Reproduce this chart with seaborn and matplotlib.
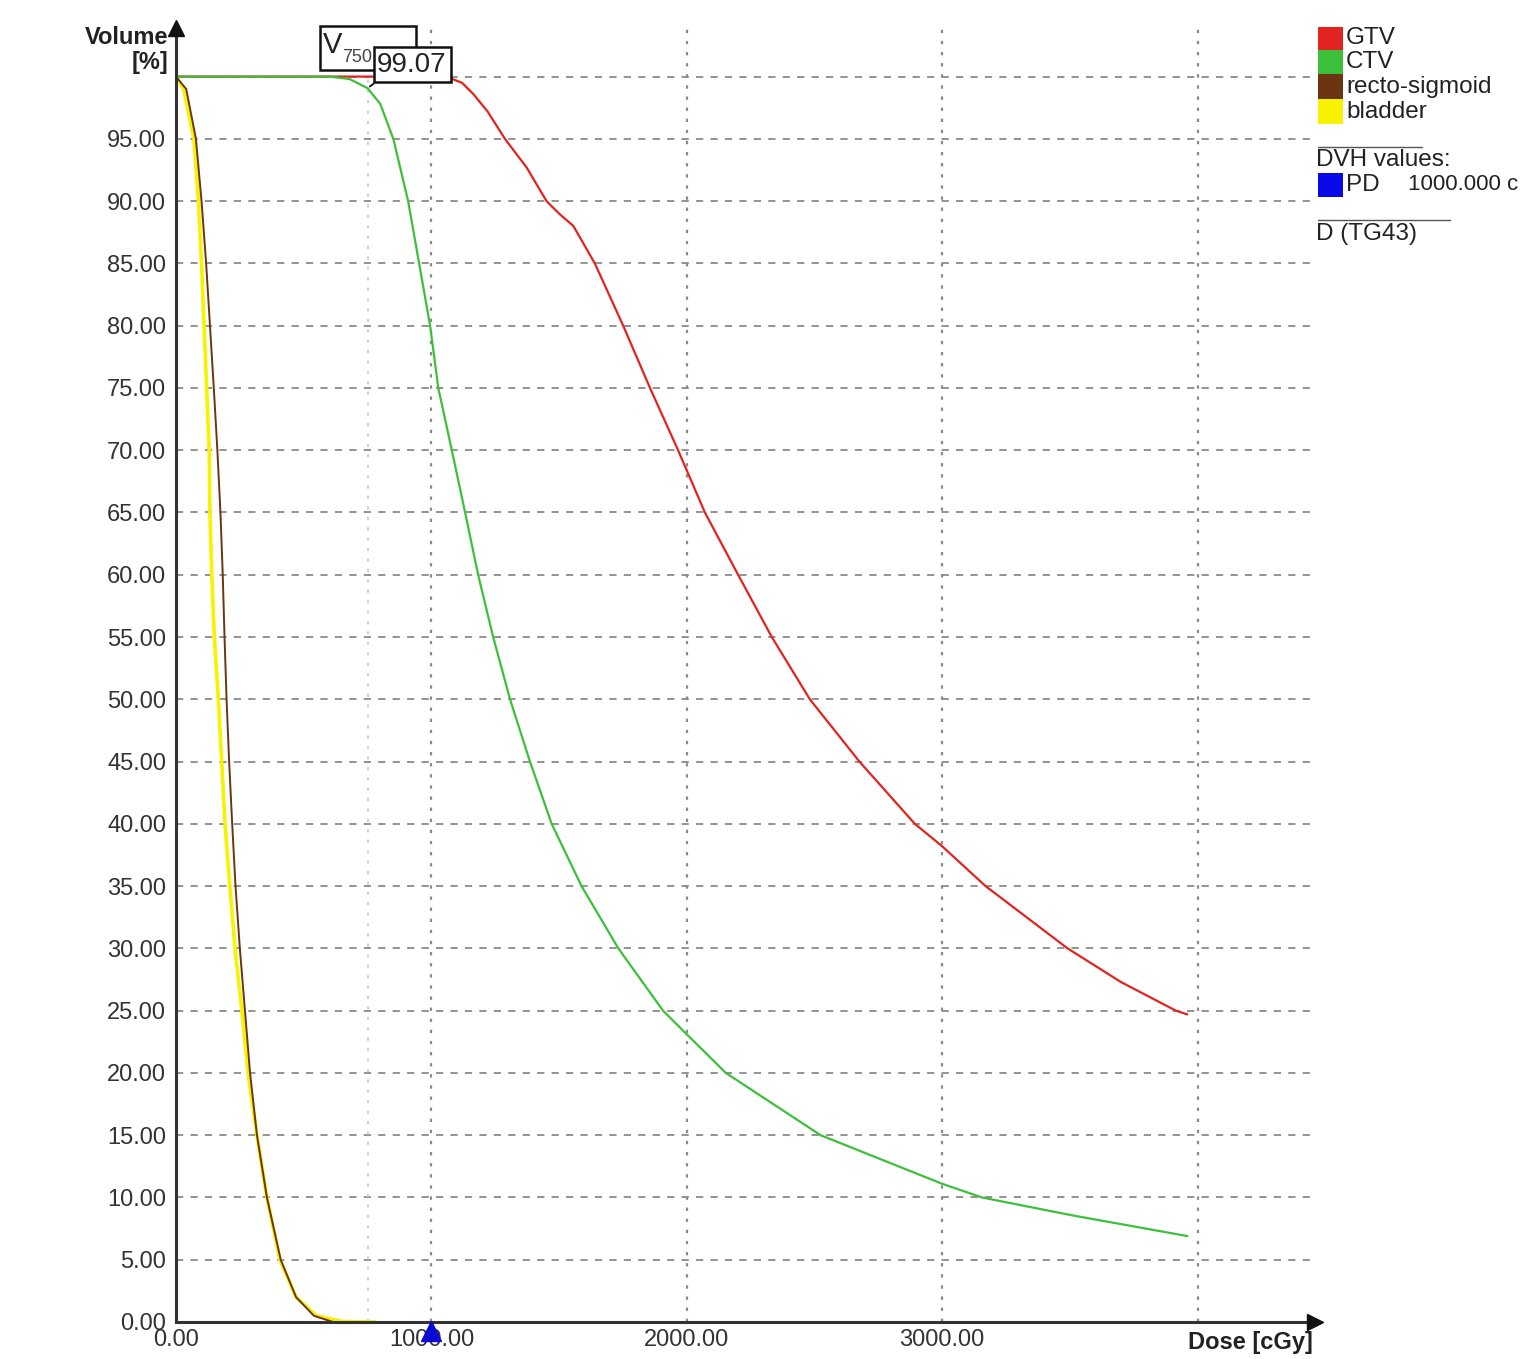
import matplotlib
matplotlib.use("Agg")
import matplotlib.pyplot as plt
from matplotlib.patches import Rectangle
from matplotlib.lines import Line2D
import numpy as np
import pandas as pd
import seaborn as sns

# DVH curves (dose in cGy, volume in %)
gtv_dose = [0, 1000, 1070, 1120, 1164, 1220, 1288, 1373, 1451, 1500, 1556, 1640, 1751, 1856,
            1966, 2071, 2201, 2333, 2482, 2676, 2893, 3000, 3170, 3491, 3700, 3915, 3960]
gtv_vol = [100, 100, 99.9, 99.5, 98.6, 97.2, 95.0, 92.7, 90.0, 89.0, 88.0, 85.0, 80.0, 75.0,
           70.0, 65.0, 60.0, 55.0, 50.0, 45.0, 40.0, 38.2, 35.0, 30.0, 27.3, 25.0, 24.7]

ctv_dose = [0, 600, 680, 750, 800, 851, 909, 952, 995, 1027, 1080, 1132, 1183, 1242, 1308,
            1386, 1471, 1588, 1732, 1907, 2000, 2153, 2524, 3000, 3156, 3500, 3960]
ctv_vol = [100, 100, 99.8, 99.07, 97.8, 95, 90, 85, 80, 75, 70, 65, 60, 55, 50,
           45, 40, 35, 30, 25, 23.1, 20, 15, 11.1, 10, 8.6, 6.9]

recto_dose = [0, 40, 78, 100, 118, 133, 148, 162, 174, 183, 190, 198, 208, 220, 233,
              250, 270, 290, 317, 356, 410, 470, 540, 615]
recto_vol = [100, 99, 95, 90, 85, 80, 75, 70, 65, 60, 55, 50, 45, 40, 35,
             30, 25, 20, 15, 10, 5, 2, 0.5, 0]

bladder_dose = [0, 30, 70, 88, 100, 110, 120, 130, 133, 140, 150, 166, 179, 192, 211,
                231, 258, 282, 317, 356, 407, 470, 550, 650, 780]
bladder_vol = [100, 99, 95, 90, 85, 80, 75, 70, 65, 60, 55, 50, 45, 40, 35,
               30, 25, 20, 15, 10, 5, 2, 0.5, 0.05, 0]

structures = ['GTV', 'CTV', 'recto-sigmoid', 'bladder']
colors = {'GTV': '#e3231f', 'CTV': '#3cc03c', 'recto-sigmoid': '#6a3510', 'bladder': '#f7f200'}

x_ticks = [0, 1000, 2000, 3000]
y_ticks = list(range(0, 100, 5))
v_dose = 750
v_value = 99.07
pd_dose = 1000

sns.set_style('white')
plt.rcParams['font.family'] = ['Liberation Sans', 'DejaVu Sans']

W, H = 1527, 1359
fig = plt.figure(figsize=(W / 100, H / 100), dpi=100)
ax = fig.add_axes([176 / W, 1 - 1322 / H, (1315 - 176) / W, (1322 - 28) / H])

# grid
for yv in y_ticks[1:] + [100]:
    ax.axhline(yv, color='#8a8a8a', lw=1.3, ls=(0, (4, 4)), zorder=1)
for xv in [1000, 2000, 3000, 4000]:
    ax.axvline(xv, color='#8a8a8a', lw=1.6, ls=(0, (1.5, 3.5)), zorder=1)
ax.plot([v_dose, v_dose], [0, 100.5], color='#d0d0d0', lw=1.5, ls=(0, (1.5, 3.5)), zorder=1)

# curves
df = pd.concat([
    pd.DataFrame({'dose': bladder_dose, 'vol': bladder_vol, 's': 'bladder'}),
    pd.DataFrame({'dose': recto_dose, 'vol': recto_vol, 's': 'recto-sigmoid'}),
    pd.DataFrame({'dose': ctv_dose, 'vol': ctv_vol, 's': 'CTV'}),
    pd.DataFrame({'dose': gtv_dose, 'vol': gtv_vol, 's': 'GTV'}),
])
widths = {'bladder': 2.6, 'recto-sigmoid': 1.4, 'CTV': 1.6, 'GTV': 1.6}
for s in ['GTV', 'CTV', 'bladder', 'recto-sigmoid']:
    sub = df[df['s'] == s]
    sns.lineplot(data=sub, x='dose', y='vol', color=colors[s], lw=widths[s],
                 sort=False, estimator=None, ax=ax, zorder=3, legend=False)

ax.set_xlim(0, 4460)
ax.set_ylim(0, 103.9)
ax.set_xlabel('')
ax.set_ylabel('')
ax.set_xticks(x_ticks)
ax.set_xticklabels([f'{v:.2f}' for v in x_ticks])
ax.set_yticks(y_ticks)
ax.set_yticklabels([f'{v:.2f}' for v in y_ticks])
ax.tick_params(axis='y', length=7, width=1.2, color='#555', pad=0, labelsize=17, labelcolor='#333')
ax.tick_params(axis='x', length=0, pad=5, labelsize=17, labelcolor='#333')

for sp in ['top', 'right']:
    ax.spines[sp].set_visible(False)
for sp in ['left', 'bottom']:
    ax.spines[sp].set_color('#333')
    ax.spines[sp].set_linewidth(2.2)
    ax.spines[sp].set_zorder(4)

# axis arrows
ax.plot([0], [1.0], marker='^', ms=11, color='#111', transform=ax.transAxes, clip_on=False, zorder=6)
ax.plot([1.0], [0], marker='>', ms=12, color='#111', transform=ax.transAxes, clip_on=False, zorder=6)

# PD marker
ax.plot([pd_dose], [-0.75], marker='^', ms=15, color='#0a0ad0', clip_on=False, zorder=7)

# axis titles
fig.text(168 / W, 1 - 38 / H, 'Volume', ha='right', va='center', fontsize=17, fontweight='bold', color='#222')
fig.text(168 / W, 1 - 63 / H, '[%]', ha='right', va='center', fontsize=17, fontweight='bold', color='#222')
fig.text(1313 / W, 1 - 1342 / H, 'Dose [cGy]', ha='right', va='center', fontsize=17, fontweight='bold', color='#222')

# V750 annotation boxes
def fig_rect(x0, y0, x1, y1, **kw):
    fig.add_artist(Rectangle((x0 / W, 1 - y1 / H), (x1 - x0) / W, (y1 - y0) / H,
                             transform=fig.transFigure, **kw))

fig_rect(320, 26, 416, 70, facecolor='white', edgecolor='#111', lw=1.8, zorder=8)
fig.text(323 / W, 1 - 45 / H, 'V', ha='left', va='center', fontsize=21, color='#222', zorder=9)
fig.text(342 / W, 1 - 57 / H, '750', ha='left', va='center', fontsize=13, color='#444', zorder=9)
fig_rect(374, 47, 451, 82, facecolor='white', edgecolor='#111', lw=1.8, zorder=10)
fig.text(412 / W, 1 - 65 / H, f'{v_value:.2f}', ha='center', va='center', fontsize=20, color='#222', zorder=11)
ax.annotate('', xy=(v_dose, v_value), xytext=(376 / W, 1 - 82 / H), textcoords='figure fraction',
            arrowprops=dict(arrowstyle='-', color='#111', lw=1.3), zorder=10)

# legend panel
ys = [(27, 50), (50, 74), (74, 99), (99, 124)]
for s, (y0, y1) in zip(structures, ys):
    fig_rect(1318, y0, 1343, y1, facecolor=colors[s], edgecolor='none')
    fig.text(1346 / W, 1 - (y0 + y1) / 2 / H, s, ha='left', va='center', fontsize=17.5, color='#222')

fig.add_artist(Line2D([1318 / W, 1422 / W], [1 - 147 / H] * 2, color='#555', lw=1, transform=fig.transFigure))
fig.text(1316 / W, 1 - 160 / H, 'DVH values:', ha='left', va='center', fontsize=17.5, color='#222')
fig_rect(1318, 173, 1343, 197, facecolor='#0a0ae8', edgecolor='none')
fig.text(1346 / W, 1 - 185 / H, 'PD', ha='left', va='center', fontsize=17.5, color='#222')
fig.text(1408 / W, 1 - 185 / H, '1000.000 c', ha='left', va='center', fontsize=16, color='#222')
fig.add_artist(Line2D([1318 / W, 1450 / W], [1 - 220 / H] * 2, color='#555', lw=1, transform=fig.transFigure))
fig.text(1316 / W, 1 - 234 / H, 'D (TG43)', ha='left', va='center', fontsize=17.5, color='#222')

fig.savefig('out.png', dpi=100)
